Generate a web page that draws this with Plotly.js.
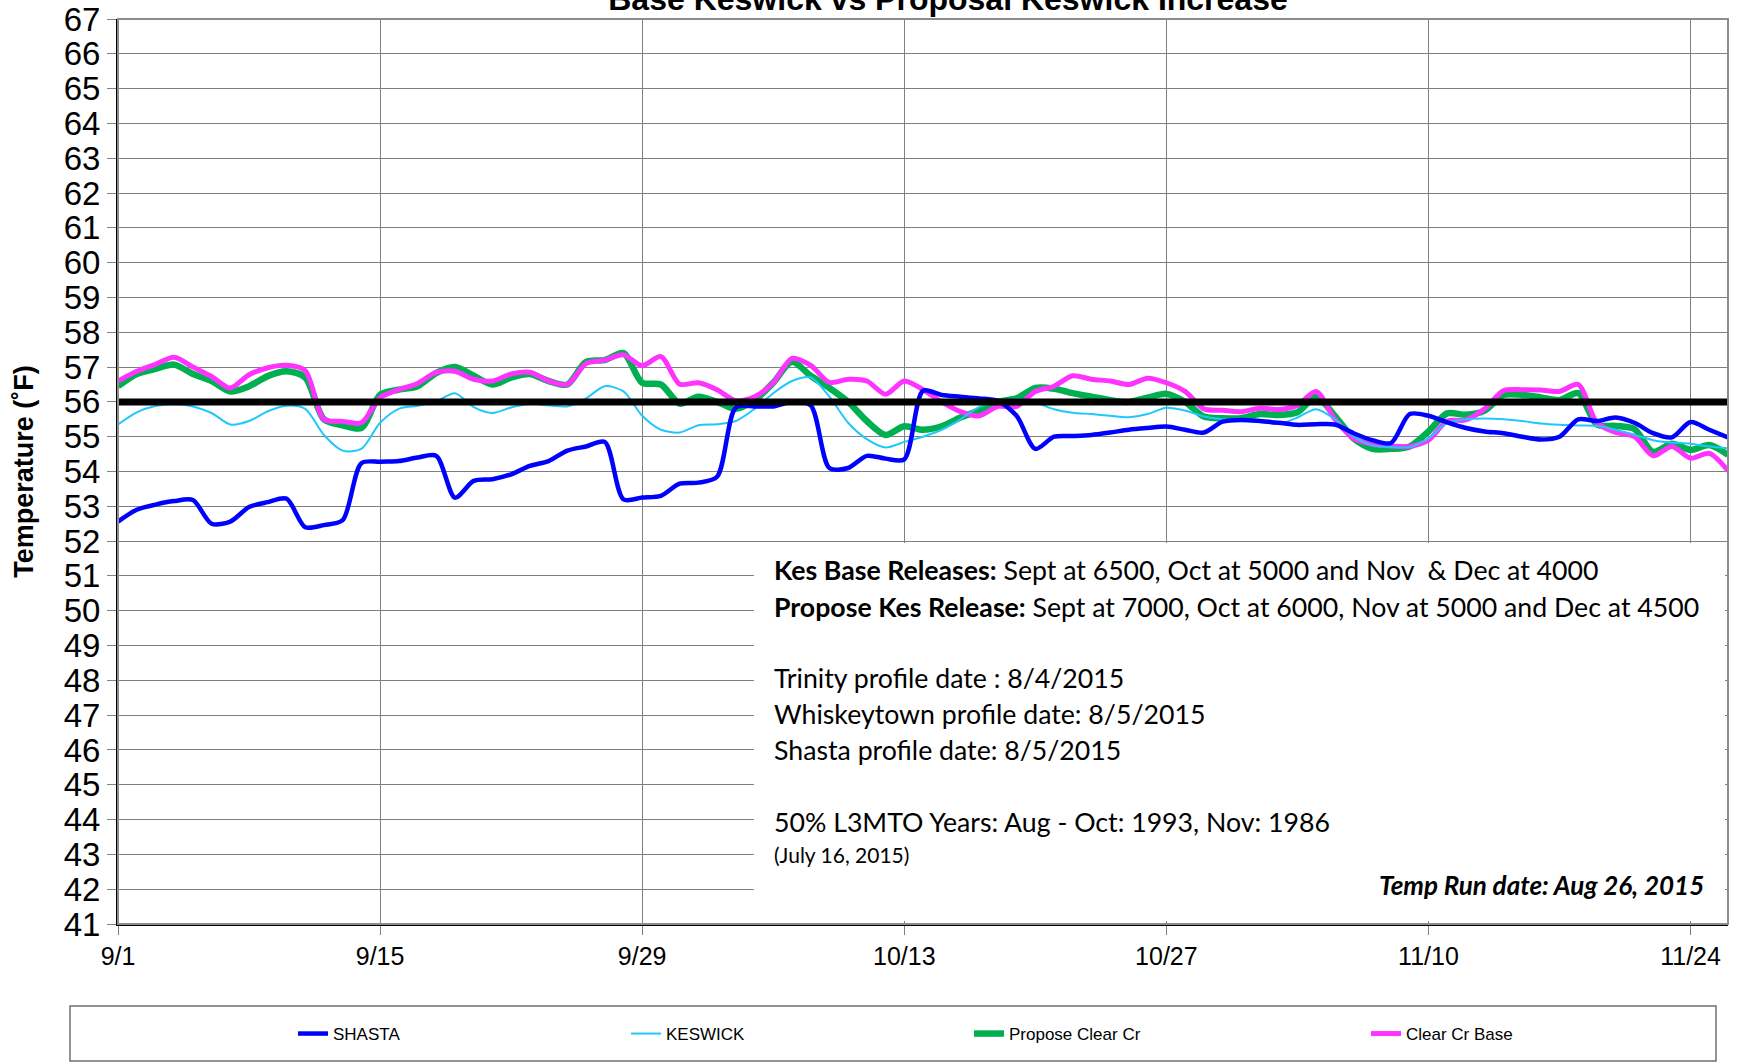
<!DOCTYPE html>
<html>
<head>
<meta charset="utf-8">
<script src="https://cdn.plot.ly/plotly-3.0.1.min.js"></script>
<style>
  html, body { margin: 0; padding: 0; background: #ffffff; }
  #chart { width: 1739px; height: 1063px; }
</style>
</head>
<body>
<div id="chart"></div>
<script>
// ---- Data (daily values, 9/1/2015 .. 11/26/2015) ----
const startDate = '2015-09-01';
const dayCount = 87;

const shasta = [52.56,52.9,53.05,53.15,53.18,52.5,52.56,52.98,53.12,53.22,
  52.4,52.46,52.6,54.24,54.28,54.3,54.4,54.45,53.25,53.73,
  53.78,53.92,54.16,54.3,54.6,54.72,54.85,53.2,53.25,53.3,
  53.65,53.68,53.85,55.84,55.87,55.87,56.0,55.9,54.1,54.1,
  54.45,54.37,54.35,56.32,56.2,56.15,56.1,56.03,55.6,54.65,
  55.0,55.02,55.05,55.12,55.2,55.25,55.29,55.2,55.12,55.43,
  55.48,55.45,55.4,55.34,55.36,55.35,55.1,54.9,54.82,55.65,
  55.6,55.41,55.25,55.15,55.1,55.0,54.92,55.0,55.5,55.45,
  55.55,55.4,55.1,54.98,55.42,55.2,54.98];

const keswick = [55.35,55.7,55.88,55.93,55.87,55.68,55.35,55.45,55.73,55.89,
  55.8,55.05,54.6,54.65,55.4,55.8,55.89,56.02,56.25,55.85,
  55.68,55.84,55.95,55.9,55.87,56.1,56.45,56.3,55.6,55.2,
  55.12,55.33,55.36,55.45,55.8,56.25,56.6,56.7,56.15,55.4,
  54.93,54.69,54.85,55.0,55.2,55.5,55.85,55.98,56.08,55.98,
  55.79,55.69,55.65,55.6,55.56,55.65,55.83,55.75,55.58,55.5,
  55.48,55.42,55.37,55.55,55.79,55.5,55.0,54.75,54.7,54.7,
  54.95,55.4,55.5,55.52,55.5,55.45,55.38,55.34,55.32,55.31,
  55.2,55.05,54.9,54.83,54.8,54.72,54.67];

const proposeClearCr = [56.45,56.8,56.95,57.07,56.8,56.6,56.3,56.45,56.74,56.88,
  56.7,55.5,55.33,55.25,56.2,56.35,56.45,56.83,57.0,56.75,
  56.5,56.7,56.8,56.6,56.5,57.15,57.2,57.4,56.55,56.5,
  55.95,56.15,56.0,55.8,56.05,56.55,57.15,56.75,56.4,56.0,
  55.45,55.05,55.3,55.2,55.3,55.55,55.75,56.0,56.1,56.4,
  56.38,56.25,56.15,56.05,56.0,56.12,56.23,56.0,55.58,55.53,
  55.53,55.65,55.62,55.7,56.15,55.6,54.95,54.65,54.65,54.72,
  55.15,55.67,55.63,55.75,56.2,56.2,56.13,56.05,56.25,55.35,
  55.31,55.22,54.56,54.8,54.62,54.76,54.48];

const clearCrBase = [56.6,56.88,57.08,57.28,57.0,56.73,56.4,56.78,56.98,57.05,
  56.9,55.5,55.44,55.4,56.12,56.35,56.53,56.85,56.88,56.65,
  56.6,56.8,56.85,56.6,56.5,57.1,57.2,57.35,57.04,57.3,
  56.51,56.55,56.35,56.03,56.15,56.55,57.25,57.05,56.56,56.65,
  56.6,56.22,56.6,56.35,56.0,55.72,55.6,55.87,55.87,56.3,
  56.45,56.75,56.65,56.6,56.5,56.68,56.55,56.3,55.8,55.76,
  55.72,55.82,55.78,55.9,56.3,55.5,54.95,54.78,54.73,54.72,
  54.9,55.45,55.48,55.8,56.32,56.35,56.34,56.3,56.5,55.4,
  55.12,55.0,54.45,54.72,54.38,54.52,54.02];

const targetTempF = 56;

const seriesNames = ['SHASTA', 'KESWICK', 'Propose Clear Cr', 'Clear Cr Base'];
const xTickStart = '2015-09-01';
const xRange = ['2015-09-01', '2015-11-26'];
const yRange = [41, 67];

const titleText = 'Base Keswick vs Proposal Keswick Increase';
const yTitleText = 'Temperature (˚F)';
const noteLines = [
  '<b>Kes Base Releases:</b> Sept at 6500, Oct at 5000 and Nov\u00a0 & Dec at 4000',
  '<b>Propose Kes Release:</b> Sept at 7000, Oct at 6000, Nov at 5000 and Dec at 4500',
  'Trinity profile date : 8/4/2015',
  'Whiskeytown profile date: 8/5/2015',
  'Shasta profile date: 8/5/2015',
  '50% L3MTO Years: Aug - Oct: 1993, Nov: 1986'
];
const noteSmall = '(July 16, 2015)';
const runDateText = '<b><i>Temp Run date: Aug 26, 2015</i></b>';

// ---- Build dates ----
const dates = [];
{
  const d0 = new Date(startDate + 'T00:00:00Z');
  for (let i = 0; i < dayCount; i++) {
    const d = new Date(d0.getTime() + i * 86400000);
    dates.push(d.toISOString().slice(0, 10));
  }
}

const ARIAL = 'Liberation Sans, Arial, sans-serif';
const CAL = 'Lato, Carlito, Calibri, sans-serif';

const traces = [
  { x: dates, y: proposeClearCr, name: seriesNames[2], mode: 'lines',
    line: { color: '#00b050', width: 6.5, shape: 'spline', smoothing: 0.8 },
    legend: 'legend3' },
  { x: dates, y: clearCrBase, name: seriesNames[3], mode: 'lines',
    line: { color: '#ff33ff', width: 5, shape: 'spline', smoothing: 0.8 },
    legend: 'legend4' },
  { x: dates, y: keswick, name: seriesNames[1], mode: 'lines',
    line: { color: '#1ec8ff', width: 2, shape: 'spline', smoothing: 0.8 },
    legend: 'legend2' },
  { x: dates, y: shasta, name: seriesNames[0], mode: 'lines',
    line: { color: '#0000ff', width: 4.5, shape: 'spline', smoothing: 0.8 },
    legend: 'legend' },
  { x: dates, y: dates.map(() => targetTempF), name: 'Target', mode: 'lines',
    line: { color: '#000000', width: 7 }, showlegend: false, hoverinfo: 'skip' }
];

const L = 118, R = 11, T = 19, B = 139;
const W = 1739, H = 1063;
const pw = W - L - R, ph = H - T - B;
const px = v => (v - L) / pw;          // page x -> paper x
const py = v => (H - B - v) / ph;      // page y -> paper y

function legendAt(textStartX) {
  return {
    orientation: 'h', x: px(textStartX - 42), xanchor: 'left',
    y: py(1034), yanchor: 'middle',
    bgcolor: 'rgba(0,0,0,0)', borderwidth: 0,
    font: { family: ARIAL, size: 17, color: '#000' },
    itemwidth: 30
  };
}

const noteY = [570, 607, 678, 714, 750, 822];
const annotations = noteLines.map((t, i) => ({
  text: t, xref: 'paper', yref: 'paper', x: px(772), y: py(noteY[i]),
  xanchor: 'left', yanchor: 'middle', showarrow: false,
  font: { family: CAL, size: 26.7, color: '#000' }
}));
annotations.push({
  text: noteSmall, xref: 'paper', yref: 'paper', x: px(772), y: py(854),
  xanchor: 'left', yanchor: 'middle', showarrow: false,
  font: { family: CAL, size: 21, color: '#000' }
});
annotations.push({
  text: runDateText, xref: 'paper', yref: 'paper', x: px(1706), y: py(885),
  xanchor: 'right', yanchor: 'middle', showarrow: false,
  font: { family: CAL, size: 26, color: '#000' }
});

const layout = {
  width: W, height: H,
  margin: { l: L, r: R, t: T, b: B, pad: 0 },
  paper_bgcolor: '#ffffff', plot_bgcolor: '#ffffff',
  title: {
    text: '<b>' + titleText + '</b>',
    font: { family: ARIAL, size: 32, color: '#000' },
    xref: 'paper', x: px(948), xanchor: 'center',
    yref: 'paper', y: 1 + 6 / ph, yanchor: 'bottom', pad: { b: 2 }
  },
  xaxis: {
    type: 'date', range: xRange,
    tick0: xTickStart, dtick: 14 * 86400000, tickformat: '%-m/%-d',
    showgrid: true, gridcolor: '#808080', gridwidth: 1,
    showline: true, linecolor: '#000', linewidth: 2,
    ticks: 'outside', ticklen: 9, tickcolor: '#808080', tickwidth: 1,
    tickfont: { family: ARIAL, size: 25, color: '#000' },
    zeroline: false, fixedrange: true
  },
  yaxis: {
    range: yRange, dtick: 1, tick0: 41,
    showgrid: true, gridcolor: '#808080', gridwidth: 1,
    showline: true, linecolor: '#000', linewidth: 2,
    ticks: 'outside', ticklen: 9, tickcolor: '#808080', tickwidth: 1,
    tickfont: { family: ARIAL, size: 33, color: '#000' },
    title: { text: '<b>' + yTitleText + '</b>', font: { family: ARIAL, size: 27, color: '#000' }, standoff: 22 },
    zeroline: false, fixedrange: true
  },
  legend: legendAt(335),
  legend2: legendAt(668),
  legend3: legendAt(1011),
  legend4: legendAt(1408),
  shapes: [
    // note box covering grid
    { type: 'rect', xref: 'paper', yref: 'paper', x0: px(754), x1: px(1725), y0: py(921), y1: py(543),
      fillcolor: '#ffffff', line: { width: 0 }, layer: 'above' },
    // plot area border (top/right)
    { type: 'rect', xref: 'paper', yref: 'paper', x0: 0, x1: 1, y0: 0, y1: 1,
      line: { color: '#8c8c8c', width: 2 }, fillcolor: 'rgba(0,0,0,0)', layer: 'above' },
    // legend frame
    { type: 'rect', xref: 'paper', yref: 'paper', x0: px(70), x1: px(1716), y0: py(1061), y1: py(1006),
      line: { color: '#707070', width: 1.5 }, fillcolor: 'rgba(0,0,0,0)', layer: 'above' }
  ],
  annotations: annotations,
  showlegend: true
};

Plotly.newPlot('chart', traces, layout, { staticPlot: true, displayModeBar: false });
</script>
</body>
</html>
